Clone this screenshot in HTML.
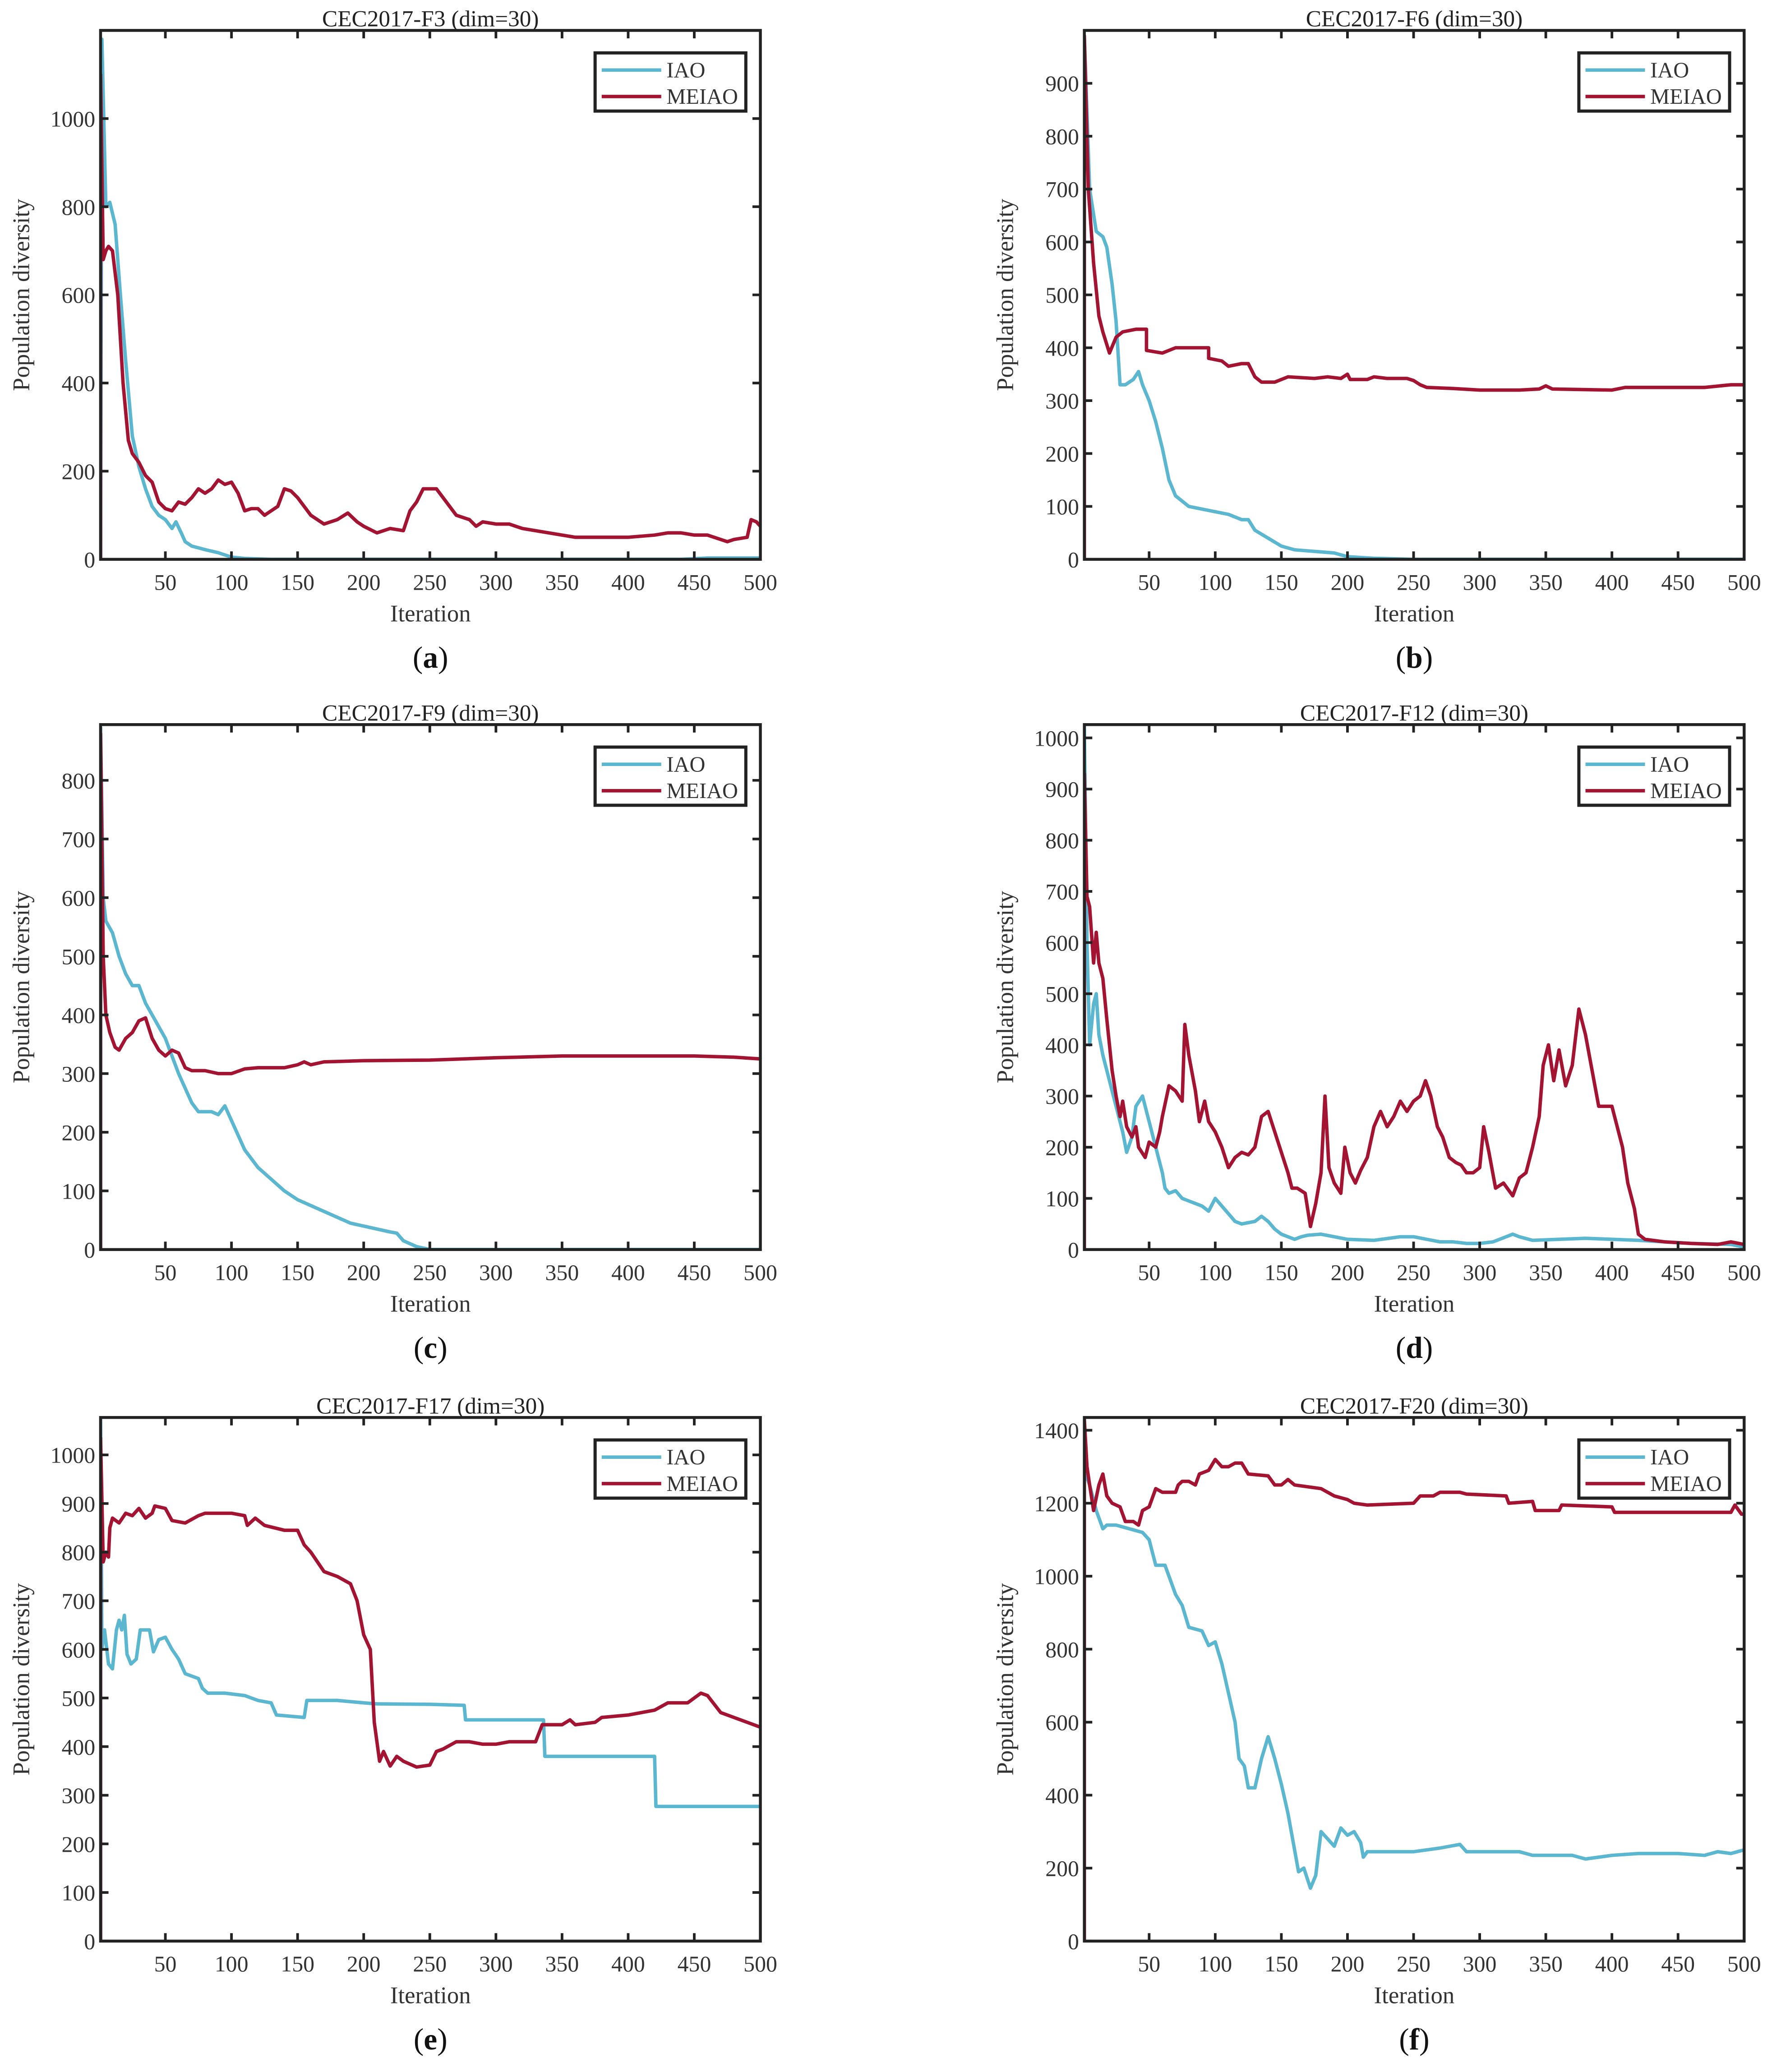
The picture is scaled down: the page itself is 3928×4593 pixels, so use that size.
<!DOCTYPE html>
<html><head><meta charset="utf-8">
<style>
html,body{margin:0;padding:0;background:#fff;}
svg{display:block;font-family:"Liberation Serif","DejaVu Serif",serif;}
</style></head>
<body>
<svg id="fig" width="3928" height="4593" viewBox="0 0 1340 1567" xmlns="http://www.w3.org/2000/svg"></svg>
<script>
// ---- data ----
const panelTitles = ["CEC2017-F3 (dim=30)","CEC2017-F6 (dim=30)","CEC2017-F9 (dim=30)","CEC2017-F12 (dim=30)","CEC2017-F17 (dim=30)","CEC2017-F20 (dim=30)"];
const panelLetters = ["a","b","c","d","e","f"];
const xTicks = [50,100,150,200,250,300,350,400,450,500];
const yMaxes = [1200,1000,895,1026,1077,1435];
const yStep = [200,100,100,100,100,200];
const yTickMax = [1000,900,800,1000,1000,1400];
const seriesNames = ["IAO","MEIAO"];

const f3_iao = [[1,0],[2,1180],[5,800],[8,810],[12,760],[16,600],[20,450],[25,280],[30,210],[35,160],[40,120],[45,100],[50,90],[55,70],[58,85],[62,60],[65,40],[70,30],[80,22],[90,15],[100,5],[110,2],[130,0],[440,0],[460,3],[500,3]];
const f3_me = [[1,0],[1,1100],[3,680],[5,700],[7,710],[10,700],[14,600],[18,400],[22,270],[25,240],[30,220],[35,190],[40,175],[45,130],[50,115],[55,110],[60,130],[65,125],[70,140],[75,160],[80,150],[85,160],[90,180],[95,170],[100,175],[105,150],[110,110],[115,115],[120,115],[125,100],[130,110],[135,120],[140,160],[145,155],[150,140],[155,120],[160,100],[170,80],[180,90],[188,105],[195,85],[200,75],[210,60],[220,70],[230,65],[235,110],[240,130],[245,160],[250,160],[255,160],[260,140],[270,100],[280,90],[285,75],[290,85],[300,80],[310,80],[320,70],[330,65],[340,60],[350,55],[360,50],[380,50],[400,50],[420,55],[430,60],[440,60],[450,55],[460,55],[470,45],[475,40],[480,45],[490,50],[493,90],[497,85],[500,75]];

const f6_iao = [[1,0],[1,990],[5,700],[10,620],[15,610],[18,590],[22,520],[25,450],[28,330],[32,330],[38,340],[42,355],[45,330],[50,300],[55,260],[60,210],[65,150],[70,120],[80,100],[90,95],[100,90],[110,85],[120,75],[125,75],[130,55],[140,40],[150,25],[160,18],[175,15],[190,12],[200,5],[220,2],[250,0],[500,0]];
const f6_me = [[1,0],[1,990],[4,700],[8,560],[12,460],[15,430],[20,390],[25,420],[30,430],[40,435],[48,435],[48,395],[60,390],[65,395],[70,400],[80,400],[95,400],[95,380],[105,375],[110,365],[120,370],[125,370],[130,345],[135,335],[145,335],[155,345],[175,342],[185,345],[195,342],[200,350],[202,340],[215,340],[220,345],[230,342],[245,342],[250,338],[255,330],[260,325],[280,323],[300,320],[330,320],[345,322],[350,328],[355,322],[400,320],[410,325],[450,325],[470,325],[490,330],[500,330]];

const f9_iao = [[1,0],[1,890],[3,600],[5,560],[10,540],[15,500],[20,470],[25,450],[30,450],[35,420],[40,400],[50,360],[60,300],[70,250],[75,235],[85,235],[90,230],[95,245],[100,220],[110,170],[120,140],[130,120],[140,100],[150,85],[160,75],[170,65],[180,55],[190,45],[200,40],[210,35],[220,30],[225,28],[230,15],[240,5],[250,0],[500,0]];
const f9_me = [[1,0],[1,880],[3,500],[5,400],[8,370],[12,345],[15,340],[20,360],[25,370],[30,390],[35,395],[40,360],[45,340],[50,330],[55,340],[60,335],[65,310],[70,305],[80,305],[90,300],[100,300],[110,308],[120,310],[140,310],[150,315],[155,320],[160,315],[170,320],[200,322],[250,323],[300,327],[350,330],[400,330],[450,330],[480,328],[500,325]];

const f12_iao = [[1,0],[1,1025],[3,600],[5,400],[8,480],[10,500],[12,420],[15,380],[20,330],[25,280],[30,230],[33,190],[37,220],[40,280],[45,300],[50,250],[55,200],[60,150],[62,120],[65,110],[70,115],[75,100],[80,95],[85,90],[90,85],[95,75],[100,100],[105,85],[110,70],[115,55],[120,50],[130,55],[135,65],[140,55],[145,40],[150,30],[160,20],[165,25],[170,28],[180,30],[190,25],[200,20],[220,18],[240,25],[250,25],[260,20],[270,15],[280,15],[290,12],[300,12],[310,15],[320,25],[325,30],[330,25],[340,18],[360,20],[380,22],[400,20],[420,18],[440,15],[460,12],[490,10],[500,5]];
const f12_me = [[1,0],[1,930],[3,690],[5,670],[8,560],[10,620],[12,560],[15,530],[18,450],[20,400],[22,350],[25,300],[28,260],[30,290],[33,240],[37,220],[40,240],[42,200],[47,180],[50,210],[55,200],[58,230],[60,260],[65,320],[70,310],[75,290],[77,440],[80,380],[85,310],[88,250],[92,290],[95,250],[100,230],[105,200],[110,160],[115,180],[120,190],[125,185],[130,200],[135,260],[140,270],[145,230],[150,190],[155,150],[158,120],[162,120],[168,110],[172,45],[176,90],[180,150],[183,300],[186,160],[190,130],[195,110],[198,200],[202,150],[206,130],[210,155],[215,180],[220,240],[225,270],[230,240],[235,260],[240,290],[245,270],[250,290],[255,300],[259,330],[263,300],[268,240],[272,220],[277,180],[282,170],[286,165],[290,150],[295,150],[300,160],[303,240],[307,190],[312,120],[318,130],[325,105],[330,140],[335,150],[340,200],[345,260],[348,360],[352,400],[356,330],[360,390],[365,320],[370,360],[375,470],[380,420],[385,350],[390,280],[395,280],[400,280],[403,250],[408,200],[412,130],[417,80],[420,30],[425,20],[440,15],[460,12],[480,10],[490,15],[500,10]];

const f17_iao = [[1,0],[1,1075],[2,600],[4,640],[7,570],[10,560],[13,640],[15,660],[17,640],[19,670],[21,590],[24,570],[28,580],[31,640],[38,640],[41,595],[45,620],[50,625],[55,600],[60,580],[65,550],[75,540],[78,520],[82,510],[95,510],[110,505],[120,495],[130,490],[134,465],[155,460],[157,495],[180,495],[200,490],[210,488],[250,487],[276,485],[277,455],[336,455],[337,380],[420,380],[421,277],[500,277]];
const f17_me = [[1,0],[1,1035],[3,780],[5,800],[7,790],[8,850],[10,870],[15,860],[20,880],[25,875],[30,890],[35,870],[40,880],[42,895],[50,890],[55,865],[65,860],[75,875],[80,880],[100,880],[110,875],[112,855],[118,870],[125,855],[140,845],[150,845],[155,815],[160,800],[165,780],[170,760],[180,750],[190,735],[195,700],[200,630],[205,600],[208,450],[212,370],[215,390],[220,360],[225,380],[230,370],[240,358],[250,362],[255,390],[260,395],[270,410],[280,410],[290,405],[300,405],[310,410],[330,410],[335,445],[350,445],[356,455],[360,445],[375,450],[380,460],[400,465],[420,475],[430,490],[445,490],[450,500],[455,510],[460,505],[470,470],[480,460],[490,450],[500,440]];

const f20_iao = [[1,0],[1,1350],[3,1270],[5,1250],[10,1180],[15,1130],[18,1140],[25,1140],[35,1130],[45,1120],[50,1100],[55,1030],[62,1030],[65,1000],[70,950],[75,920],[80,860],[90,850],[95,810],[100,820],[105,760],[110,680],[115,600],[118,500],[122,480],[125,420],[130,420],[135,500],[140,560],[145,500],[150,430],[155,350],[160,250],[163,190],[167,200],[172,145],[176,180],[180,300],[185,280],[190,260],[195,310],[200,290],[205,300],[210,270],[212,230],[215,245],[250,245],[270,255],[285,265],[290,245],[330,245],[340,235],[370,235],[380,225],[400,235],[420,240],[450,240],[470,235],[480,245],[490,240],[500,250]];
const f20_me = [[1,0],[1,1430],[3,1300],[5,1250],[8,1180],[12,1250],[15,1280],[18,1220],[22,1200],[28,1190],[32,1150],[38,1150],[42,1140],[45,1180],[50,1190],[55,1240],[60,1230],[70,1230],[72,1250],[75,1260],[80,1260],[85,1250],[88,1280],[95,1290],[100,1320],[105,1300],[110,1300],[115,1310],[120,1310],[125,1280],[140,1275],[145,1250],[150,1250],[155,1265],[160,1250],[180,1240],[190,1220],[200,1210],[205,1200],[215,1195],[250,1200],[255,1220],[265,1220],[270,1230],[285,1230],[290,1225],[320,1220],[322,1200],[340,1205],[342,1180],[360,1180],[362,1195],[400,1190],[402,1175],[440,1175],[490,1175],[493,1195],[498,1170],[500,1170]];

const iaoSeries = [f3_iao,f6_iao,f9_iao,f12_iao,f17_iao,f20_iao];
const meiaoSeries = [f3_me,f6_me,f9_me,f12_me,f17_me,f20_me];

// ---- layout ----
const NS = "http://www.w3.org/2000/svg";
const svg = document.getElementById("fig");
const colL = [76,820], colW = 499;
const rowT = [23,548,1072], rowH = [400,397,396];
const COL_IAO = "#5bb6cf", COL_ME = "#a31432";

function mk(tag, attrs, parent){
  const e = document.createElementNS(NS, tag);
  for (const k in attrs) e.setAttribute(k, attrs[k]);
  (parent||svg).appendChild(e);
  return e;
}

for (let p = 0; p < 6; p++){
  const L = colL[p%2], R = L + colW, T = rowT[Math.floor(p/2)], B = T + rowH[Math.floor(p/2)];
  const cx = (L+R)/2;
  const xs = v => L + (v-1)/(499)*(R-L);
  const ys = v => B - v/yMaxes[p]*(B-T);
  const g = mk("g", {});
  
  

  const clipId = "clip"+p;
  const cp = mk("clipPath", {id: clipId}, g);
  mk("rect", {x:L, y:T, width:R-L, height:B-T}, cp);

  const t = mk("text", {x:cx, y:T-3, "text-anchor":"middle", "font-size":17.5, fill:"#222"}, g);
  t.textContent = panelTitles[p];
  
  

  [[iaoSeries[p], COL_IAO, "iao-line"], [meiaoSeries[p], COL_ME, "meiao-line"]].forEach(s => {
    const pts = s[0].map(d => xs(d[0]).toFixed(2) + "," + ys(d[1]).toFixed(2)).join(" ");
    const pl = mk("polyline", {points: pts, fill:"none", stroke:s[1], "stroke-width":2.6, "stroke-linejoin":"round", "clip-path":"url(#"+clipId+")"}, g);
    
    
  });

  const fr = mk("rect", {x:L, y:T, width:R-L, height:B-T, fill:"none", stroke:"#222", "stroke-width":2.2}, g);
  
  

  xTicks.forEach(v => {
    const x = xs(v);
    mk("line", {x1:x, y1:B, x2:x, y2:B-6, stroke:"#222", "stroke-width":2}, g);
    mk("line", {x1:x, y1:T, x2:x, y2:T+6, stroke:"#222", "stroke-width":2}, g);
    const tl = mk("text", {x:x, y:B+23, "text-anchor":"middle", "font-size":17, fill:"#333"}, g);
    tl.textContent = v;
    
    
  });
  for (let v = 0; v <= yTickMax[p]; v += yStep[p]){
    const y = ys(v);
    mk("line", {x1:L, y1:y, x2:L+6, y2:y, stroke:"#222", "stroke-width":2}, g);
    mk("line", {x1:R, y1:y, x2:R-6, y2:y, stroke:"#222", "stroke-width":2}, g);
    const tl = mk("text", {x:L-4, y:y+6, "text-anchor":"end", "font-size":17, fill:"#333"}, g);
    tl.textContent = v;
    
    
  }
  const xt = mk("text", {x:cx, y:B+47, "text-anchor":"middle", "font-size":18, fill:"#333"}, g);
  xt.textContent = "Iteration";
  
  
  const ymid = (T+B)/2;
  const yx = L - 54;
  const yt = mk("text", {x:yx, y:ymid, "text-anchor":"middle", "font-size":18, fill:"#333", transform:"rotate(-90 "+yx+" "+ymid+")"}, g);
  yt.textContent = "Population diversity";
  
  

  const lx = R - 125, ly = T + 17;
  const lg = mk("g", {}, g);
  
  
  mk("rect", {x:lx, y:ly, width:114, height:44, fill:"#fff", stroke:"#222", "stroke-width":2.4}, lg);
  [[COL_IAO, seriesNames[0], 13], [COL_ME, seriesNames[1], 33]].forEach(e => {
    mk("line", {x1:lx+5, y1:ly+e[2], x2:lx+50, y2:ly+e[2], stroke:e[0], "stroke-width":2.6}, lg);
    const tx = mk("text", {x:lx+54, y:ly+e[2]+5.5, "font-size":16.5, fill:"#333"}, lg);
    tx.textContent = e[1];
    
    
  });

  const sl = mk("text", {x:cx, y:B+82, "text-anchor":"middle", "font-size":23, fill:"#111"}, g);
  
  
  const a = document.createElementNS(NS, "tspan"); a.textContent = "("; sl.appendChild(a);
  const b = document.createElementNS(NS, "tspan"); b.setAttribute("font-weight","bold"); b.textContent = panelLetters[p]; sl.appendChild(b);
  const c = document.createElementNS(NS, "tspan"); c.textContent = ")"; sl.appendChild(c);
}
</script>
</body></html>
